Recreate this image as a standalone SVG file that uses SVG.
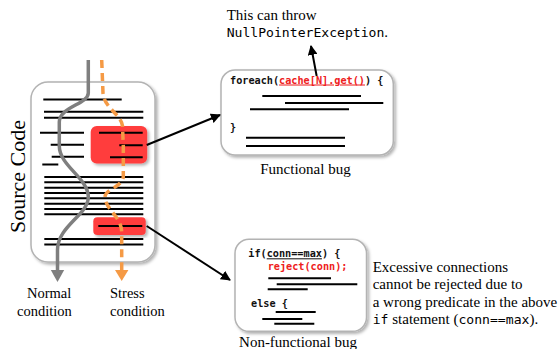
<svg xmlns="http://www.w3.org/2000/svg" width="558" height="349" viewBox="0 0 558 349">
<defs>
<filter id="sh" x="-10%" y="-10%" width="125%" height="125%">
<feDropShadow dx="2" dy="2" stdDeviation="1.5" flood-color="#000" flood-opacity="0.3"/>
</filter>
<marker id="ah" viewBox="0 0 10 10" refX="9" refY="5" markerWidth="5" markerHeight="5" orient="auto" markerUnits="strokeWidth">
<path d="M0,0 L10,5 L0,10 z" fill="#000"/>
</marker>
</defs>
<style>
.box{fill:#fff;stroke:#b3b3b3;stroke-width:1.5;filter:url(#sh)}
.red{fill:#ff3d3d;filter:url(#sh)}
.ln{stroke:#000;stroke-width:2;fill:none}
.serif{font-family:"Liberation Serif","Times New Roman",serif;font-size:15px;fill:#000}
.mono{font-family:"DejaVu Sans Mono","Liberation Mono",monospace;font-weight:bold;font-size:10.2px;fill:#111}
.mono2{font-family:"DejaVu Sans Mono","Liberation Mono",monospace;font-size:13.1px;fill:#000}
.conn{stroke:#000;stroke-width:2;fill:none;marker-end:url(#ah)}
</style>

<g id="source-code">
<rect class="box" x="31" y="82" width="124" height="180" rx="17"/>
<rect class="red" x="90.7" y="126" width="56.5" height="37.5" rx="6"/>
<rect class="red" x="93.3" y="217.3" width="52.4" height="17.7" rx="4"/>
<g class="ln">
<path d="M43.3,99.5H121.7M44,111.7H143.3M44,117.7H143.3"/>
<path d="M40,132.7H84M50.7,144.7H84M51.7,156.7H84M42.3,164.5H58.3"/>
<path d="M99,132.7H142.7M119.3,145.3H142.7M110,157.3H142.7"/>
<path d="M44.3,177H143.3M44.3,182.3H143.3M44.3,187.7H143.3M44.3,193H143.3M44.3,198.3H143.3M44.3,203.7H143.3M44.3,209H143.3M44.3,214.3H143.3"/>
<path d="M98.3,226H142.3"/>
<path d="M44.3,239H143.3M44.3,244.5H143.3"/>
</g>
<path d="M88.3,60 L88.3,93 C88.3,104 59.3,107 59.3,122 L59.3,146 C59.3,166 88.3,178 88.3,197 C88.3,215 57.5,226 57.5,250 L57.5,271" fill="none" stroke="#7f7f7f" stroke-width="3.5"/>
<path d="M50.8,270 L64.2,270 L57.5,282 z" fill="#7f7f7f"/>
<path d="M101.7,60 L103,93 C104,108 121,114 122.5,126 L123.3,146 L123.3,176 C123.3,187 105,189 105,197 C105,209 121.7,217 121.7,232 L121.7,270" fill="none" stroke="#f59a45" stroke-width="3.5" stroke-dasharray="8,5"/>
<path d="M115,270 L128.4,270 L121.7,281 z" fill="#f59a45"/>
<text class="serif" style="font-size:22px" text-anchor="middle" transform="translate(25,176.5) rotate(-90)">Source Code</text>
<text class="serif" style="font-size:14.5px" x="27" y="298">Normal</text>
<text class="serif" style="font-size:14.5px" x="17" y="316">condition</text>
<text class="serif" style="font-size:14.5px" x="110" y="298">Stress</text>
<text class="serif" style="font-size:14.5px" x="110" y="316">condition</text>
</g>

<g id="functional-bug">
<rect class="box" x="221" y="70" width="172.3" height="85" rx="14"/>
<text class="mono" x="230" y="83.5">foreach(<tspan fill="#ee2020" text-decoration="underline">cache[N].get()</tspan>) {</text>
<text class="mono" x="230" y="131">}</text>
<g class="ln">
<path d="M262.3,96H361M285,103H383.3M250,109.3H349M246,137.7H345M246,146H345"/>
</g>
<text class="serif" x="305.5" y="174" text-anchor="middle">Functional bug</text>
</g>

<g id="nonfunctional-bug">
<rect class="box" x="235" y="239.3" width="131.5" height="92" rx="14"/>
<text class="mono" x="248.3" y="257.3">if(<tspan text-decoration="underline">conn==max</tspan>) {</text>
<text class="mono" x="267.7" y="270" style="fill:#ee2020">reject(conn);</text>
<text class="mono" x="251" y="306.7">else {</text>
<g class="ln">
<path d="M268.3,278.3H331M276.7,284.3H357.3M267.7,289.3H307.7M275.7,312H315.7M262.3,319H302.3M274.3,323.7H314.3"/>
</g>
<text class="serif" x="298" y="347" text-anchor="middle">Non-functional bug</text>
</g>

<g id="npe-note">
<text class="serif" x="226.7" y="19.5">This can throw</text>
<text class="serif" x="226.7" y="37"><tspan class="mono2">NullPointerException</tspan>.</text>
</g>

<g id="conn-note">
<text class="serif" x="372.7" y="271.5">Excessive connections</text>
<text class="serif" x="372.7" y="289">cannot be rejected due to</text>
<text class="serif" x="372.7" y="306.5">a wrong predicate in the above</text>
<text class="serif" x="372.7" y="324"><tspan class="mono2">if</tspan> statement (<tspan class="mono2">conn==max</tspan>).</text>
</g>

<g id="connectors">
<path class="conn" d="M146.7,145 L220,115"/>
<path class="conn" d="M146.7,226 L230,280"/>
<path class="conn" d="M316.7,76 L311,46"/>
</g>
</svg>
